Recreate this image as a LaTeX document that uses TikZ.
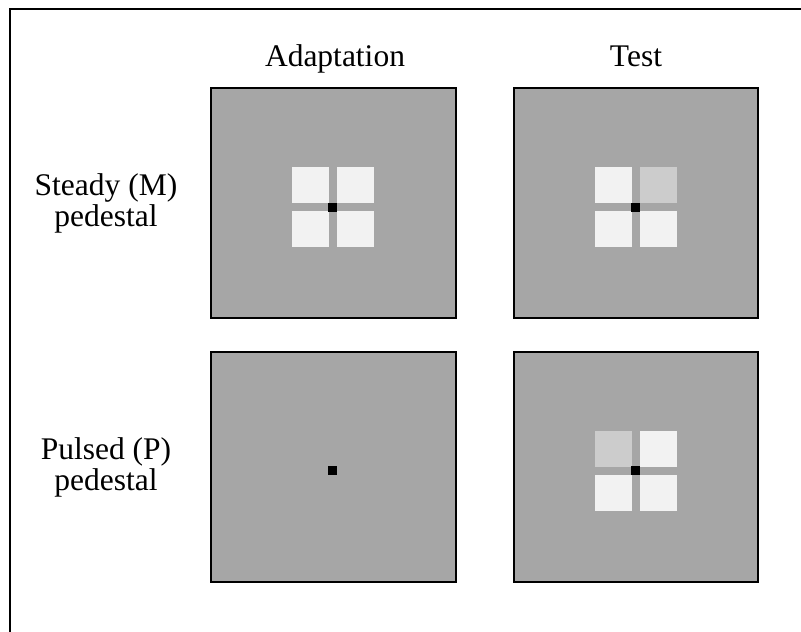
\documentclass[tikz,border=0pt]{standalone}
\usepackage{fontspec}
\setmainfont{Liberation Serif}
\begin{document}
\begin{tikzpicture}[x=1pt,y=-1pt,
  panel/.style={draw=black,line width=2pt,fill=bggray},
  wsq/.style={fill=sqwhite},
  gsq/.style={fill=sqgray},
  fix/.style={fill=black},
  lbl/.style={font=\fontsize{31.5}{32}\selectfont,anchor=base,inner sep=0pt}]
\definecolor{bggray}{RGB}{166,166,166}
\definecolor{sqwhite}{RGB}{242,242,242}
\definecolor{sqgray}{RGB}{204,204,204}
\useasboundingbox (0,0) rectangle (801,632);
\begin{scope}
\clip (0,0) rectangle (801,632);
\draw[line width=2pt] (10,640) -- (10,9) -- (810,9);
\end{scope}
% panels
\draw[panel] (211,88) rectangle (456,318);
\draw[panel] (514,88) rectangle (758,318);
\draw[panel] (211,352) rectangle (456,582);
\draw[panel] (514,352) rectangle (758,582);
% top-left squares
\fill[wsq] (292,167) rectangle (329,203);
\fill[wsq] (337,167) rectangle (374,203);
\fill[wsq] (292,211) rectangle (329,247);
\fill[wsq] (337,211) rectangle (374,247);
\fill[fix] (328,203) rectangle (337,212);
% top-right squares
\fill[wsq] (595,167) rectangle (632,203);
\fill[gsq] (640,167) rectangle (677,203);
\fill[wsq] (595,211) rectangle (632,247);
\fill[wsq] (640,211) rectangle (677,247);
\fill[fix] (631,203) rectangle (640,212);
% bottom-left fixation
\fill[fix] (328,466) rectangle (337,475);
% bottom-right squares
\fill[gsq] (595,431) rectangle (632,467);
\fill[wsq] (640,431) rectangle (677,467);
\fill[wsq] (595,475) rectangle (632,511);
\fill[wsq] (640,475) rectangle (677,511);
\fill[fix] (631,466) rectangle (640,475);
% labels
\node[lbl] (ad) at (335,66) {Adaptation};
\node[lbl] (te) at (636,66) {Test};
\node[lbl] (s1) at (106,195) {Steady (M)};
\node[lbl] (s2) at (106,226) {pedestal};
\node[lbl] (p1) at (106,459) {Pulsed (P)};
\node[lbl] (p2) at (106,490) {pedestal};
\end{tikzpicture}
\end{document}
